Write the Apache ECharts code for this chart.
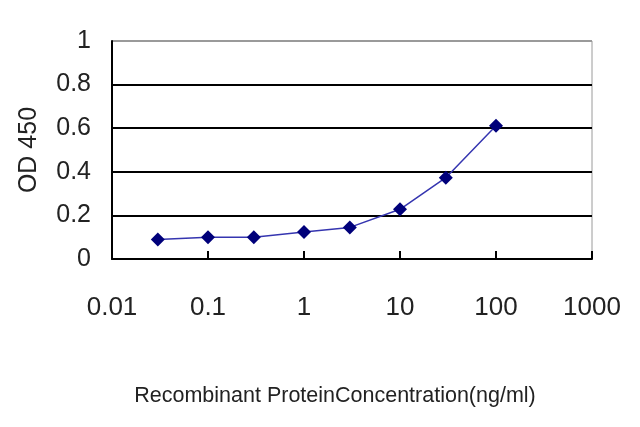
<!DOCTYPE html>
<html>
<head>
<meta charset="utf-8">
<script src="https://cdn.jsdelivr.net/npm/echarts@6/dist/echarts.min.js"></script>
<style>
  html, body { margin: 0; padding: 0; background: #fff; }
  #chart { width: 640px; height: 427px; }
</style>
</head>
<body>
<div id="chart"></div>
<script>
// concentration (ng/ml) and OD 450
const concentrations = [0.03, 0.1, 0.3, 1, 3, 10, 30, 100]
const odValues = [0.09, 0.10, 0.10, 0.124, 0.145, 0.228, 0.373, 0.611]

const chart = echarts.init(document.getElementById('chart'))
chart.setOption({
    animation: false,
    backgroundColor: '#fff',
    grid: {
        left: 112,
        right: 48,
        top: 41,
        bottom: 168,
        show: true,
        backgroundColor: '#fff',
        borderColor: '#9a9a9a',
        borderWidth: 1
    },
    xAxis: {
        type: 'log',
        logBase: 10,
        min: 0.01,
        max: 1000,
        name: 'Recombinant ProteinConcentration(ng/ml)',
        nameLocation: 'middle',
        nameGap: 126,
        nameTextStyle: {
            fontFamily: '"Liberation Sans", sans-serif',
            fontSize: 21.5,
            color: '#222',
            padding: [0, 34, 0, 0]
        },
        axisLine: { show: true, lineStyle: { color: '#000', width: 2 } },
        axisTick: { show: true, inside: true, length: 8, lineStyle: { color: '#000', width: 2 } },
        axisLabel: {
            margin: 36,
            fontFamily: '"Liberation Sans", sans-serif',
            fontSize: 26,
            color: '#222',
            formatter: function (v) { return String(v) }
        },
        splitLine: { show: false }
    },
    yAxis: {
        type: 'value',
        min: 0,
        max: 1,
        interval: 0.2,
        name: 'OD 450',
        nameLocation: 'middle',
        nameGap: 70,
        nameTextStyle: {
            fontFamily: '"Liberation Sans", sans-serif',
            fontSize: 25,
            color: '#222'
        },
        axisLine: { show: true, lineStyle: { color: '#000', width: 2 } },
        axisTick: { show: false },
        axisLabel: {
            margin: 21,
            fontFamily: '"Liberation Sans", sans-serif',
            fontSize: 25,
            color: '#222'
        },
        splitLine: {
            show: true,
            lineStyle: {
                color: ['#000', '#000', '#000', '#000', '#000', '#9a9a9a'],
                width: 2
            }
        }
    },
    series: [
        {
            type: 'line',
            data: concentrations.map((c, i) => [c, odValues[i]]),
            symbol: 'diamond',
            symbolSize: 14,
            itemStyle: { color: '#00007a' },
            lineStyle: { color: '#3535b0', width: 1.5 }
        }
    ]
})
</script>
</body>
</html>
